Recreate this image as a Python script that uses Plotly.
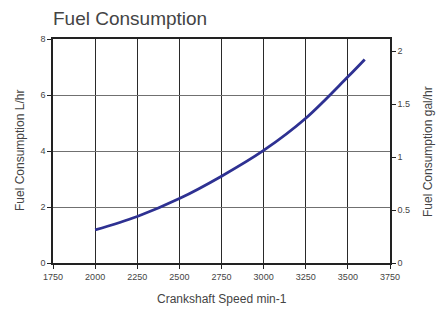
import plotly.graph_objects as go

speed = [2000, 2250, 2500, 2750, 3000, 3250, 3500, 3600]
fuel_lph = [1.18, 1.66, 2.30, 3.10, 4.02, 5.17, 6.65, 7.27]
L_PER_GAL = 3.78541

x_ticks = [1750, 2000, 2250, 2500, 2750, 3000, 3250, 3500, 3750]
y_ticks = [0, 2, 4, 6, 8]
gal_ticks = [0, 0.5, 1, 1.5, 2]

FONT = "Liberation Sans Narrow, Arial Narrow, sans-serif"
W, H = 446, 313
ML, MR, MT, MB = 45, 64, 31, 58
PW, PH = W - ML - MR, H - MT - MB

fig = go.Figure()
fig.add_trace(go.Scatter(x=speed, y=fuel_lph, mode="lines", line=dict(color="#2e3192", width=2.8, shape="spline"),
                         showlegend=False, hoverinfo="x+y"))
# invisible trace to activate right axis
fig.add_trace(go.Scatter(x=[speed[0]], y=[fuel_lph[0] / L_PER_GAL], yaxis="y2", mode="lines",
                         line=dict(width=0), showlegend=False, hoverinfo="skip"))

title_font = dict(family=FONT, size=12, color="#444")
fig.update_layout(
    width=W, height=H,
    margin=dict(l=ML, r=MR, t=MT, b=MB),
    paper_bgcolor="white", plot_bgcolor="white",
    title=dict(text="Fuel Consumption", x=0, xref="paper", xanchor="left", y=1 - 10 / H, yanchor="middle",
               font=dict(family="Helvetica, Arial, sans-serif", size=19, color="#444")),
    xaxis=dict(range=[1750, 3750], tickvals=x_ticks, ticktext=[str(v) for v in x_ticks],
               showgrid=True, gridcolor="#2a2a2a", gridwidth=1, automargin=False,
               showline=True, linecolor="#222", linewidth=1.5, mirror=True,
               ticks="outside", ticklen=4, tickcolor="#222",
               tickfont=dict(family=FONT, size=9, color="#444"),
               zeroline=False),
    yaxis=dict(range=[0, 8], tickvals=y_ticks, automargin=False,
               showgrid=True, gridcolor="#707070", gridwidth=1.2,
               showline=True, linecolor="#222", linewidth=1.5,
               ticks="outside", ticklen=4, tickcolor="#222",
               tickfont=dict(family=FONT, size=9, color="#444"),
               zeroline=False),
    yaxis2=dict(range=[0, 8 / L_PER_GAL], tickvals=gal_ticks, ticktext=["0", "0.5", "1", "1.5", "2"],
                overlaying="y", side="right", showgrid=False, automargin=False,
                showline=True, linecolor="#222", linewidth=1.5,
                ticks="outside", ticklen=4, tickcolor="#222",
                tickfont=dict(family=FONT, size=9, color="#444"),
                zeroline=False),
    annotations=[
        dict(text="Crankshaft Speed min-1", xref="paper", yref="paper", x=0.5, y=-(291 - (MT + PH)) / PH,
             xanchor="center", yanchor="middle", showarrow=False, font=title_font),
        dict(text="Fuel Consumption L/hr", xref="paper", yref="paper", x=(12 - ML) / PW, y=0.5,
             xanchor="center", yanchor="middle", textangle=-90, showarrow=False, font=title_font),
        dict(text="Fuel Consumption gal/hr", xref="paper", yref="paper", x=(420 - ML) / PW, y=0.5,
             xanchor="center", yanchor="middle", textangle=-90, showarrow=False, font=title_font),
    ],
)

fig.write_html("out.html")
